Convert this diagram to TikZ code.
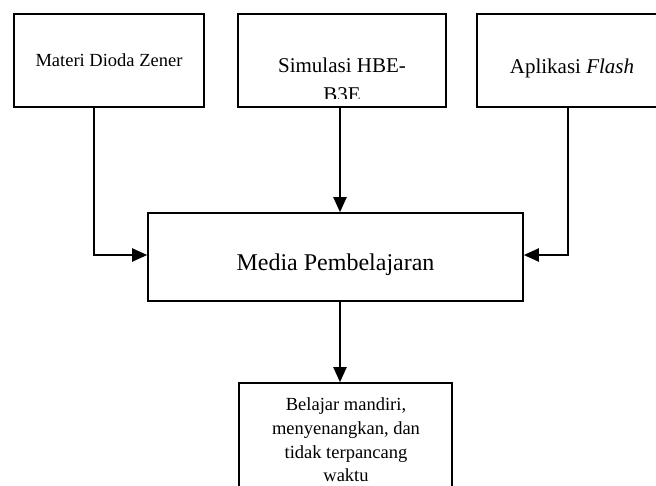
\documentclass[tikz,border=0pt]{standalone}
\usepackage{fontspec}
\setmainfont{Liberation Serif}
\usetikzlibrary{arrows.meta,calc}
\begin{document}
\begin{tikzpicture}[x=1pt,y=-1pt,
  boxshape/.style={draw,line width=1.6pt,inner sep=0pt,fill=none},
  conn/.style={line width=2pt,-{Triangle[length=15pt,width=13pt]}},
  txt/.style={inner sep=0pt,anchor=base}]
\useasboundingbox (0,0) rectangle (656,485);
\clip (0,0) rectangle (656,485);
% boxes
\node[boxshape,minimum width=190pt,minimum height=93pt] (b1) at (109,60.5) {};
\node[boxshape,minimum width=208pt,minimum height=93pt] (b2) at (342,60.5) {};
\node[boxshape,minimum width=190pt,minimum height=93pt] (b3) at (572,60.5) {};
\node[boxshape,minimum width=375pt,minimum height=88pt] (mid) at (335.5,257) {};
\node[boxshape,minimum width=213pt,minimum height=140pt] (out) at (345.5,453) {};
% texts
\node[txt,font=\fontsize{18.5}{22}\selectfont] (t1) at (109,66) {Materi Dioda Zener};
\begin{scope}
\clip (b2.north west) rectangle ($(b2.south east)+(0,-9)$);
\node[txt,font=\fontsize{21}{25}\selectfont] (t2a) at (342,72) {Simulasi HBE-};
\node[txt,font=\fontsize{21}{25}\selectfont] (t2b) at (342,101) {B3E};
\end{scope}
\node[txt,font=\fontsize{21}{25}\selectfont] (t3) at (572,73) {Aplikasi \textit{Flash}};
\node[txt,font=\fontsize{24}{28}\selectfont] (tm) at (335.5,270) {Media Pembelajaran};
\node[txt,font=\fontsize{18.5}{22}\selectfont] (o1) at (346,410) {Belajar mandiri,};
\node[txt,font=\fontsize{18.5}{22}\selectfont] (o2) at (346,434) {menyenangkan, dan};
\node[txt,font=\fontsize{18.5}{22}\selectfont] (o3) at (346,458) {tidak terpancang};
\node[txt,font=\fontsize{18.5}{22}\selectfont] (o4) at (346,481) {waktu};
% connectors
\coordinate (cx) at (340,0);
\coordinate (lx) at (94,255);
\coordinate (rx) at (568,255);
\draw[conn] (b1.south -| lx) -- (lx) -- (lx -| mid.west);
\draw[conn] (b3.south -| rx) -- (rx) -- (rx -| mid.east);
\draw[conn] (cx |- b2.south) -- (cx |- mid.north);
\draw[conn] (cx |- mid.south) -- (cx |- out.north);
\end{tikzpicture}
\end{document}
